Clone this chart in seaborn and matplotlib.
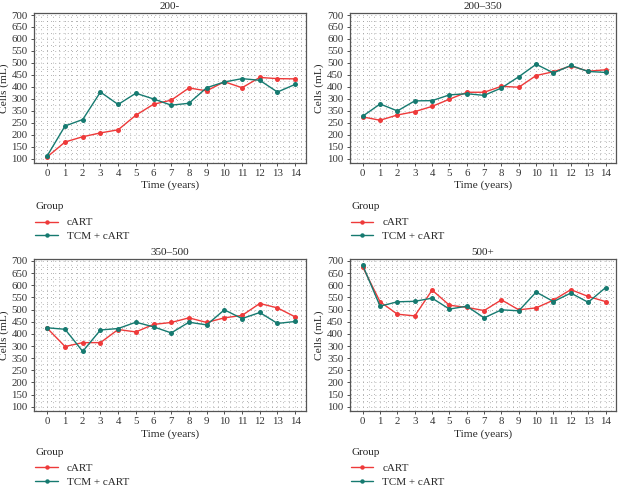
import numpy as np
import pandas as pd
import matplotlib
matplotlib.use("Agg")
import matplotlib.pyplot as plt
import seaborn as sns
from matplotlib.ticker import MultipleLocator
from matplotlib.lines import Line2D

years = list(range(15))
panel_titles = ["200-", "200\u2013350", "350\u2013500", "500+"]
groups = ["cART", "TCM + cART"]

cart_200 = [107, 169, 191, 207, 220, 281, 327, 344, 395, 383, 421, 396, 439, 434, 433]
tcm_200 = [112, 236, 263, 378, 326, 373, 349, 323, 331, 396, 420, 434, 427, 378, 410]
cart_200_350 = [274, 260, 282, 296, 318, 348, 377, 377, 402, 398, 447, 463, 487, 465, 471]
tcm_200_350 = [277, 328, 299, 341, 342, 366, 371, 364, 395, 442, 494, 458, 489, 464, 460]
cart_350_500 = [423, 348, 364, 364, 418, 408, 439, 447, 466, 447, 466, 476, 525, 507, 470]
tcm_350_500 = [425, 419, 328, 416, 422, 448, 429, 404, 448, 437, 499, 463, 488, 443, 451]
cart_500 = [675, 532, 481, 474, 580, 518, 509, 496, 540, 499, 507, 539, 582, 554, 533]
tcm_500 = [682, 514, 532, 534, 547, 502, 514, 466, 499, 495, 572, 533, 568, 530, 590]

y_ticks = [100, 150, 200, 250, 300, 350, 400, 450, 500, 550, 600, 650, 700]
y_tick_labels = ["100", "150", "200", "250", "350", "300", "400", "450", "500",
                 "550", "600", "650", "700"]

series = [(cart_200, tcm_200), (cart_200_350, tcm_200_350),
          (cart_350_500, tcm_350_500), (cart_500, tcm_500)]

colors = {"cART": "#ee3a3a", "TCM + cART": "#167a70"}

sns.set_theme(style="white")
plt.rcParams["font.family"] = ["Liberation Serif", "DejaVu Serif"]

fig = plt.figure(figsize=(6.19, 4.86), dpi=100)
positions = [
    [0.055, 0.665, 0.439, 0.308],
    [0.565, 0.665, 0.430, 0.308],
    [0.055, 0.154, 0.439, 0.313],
    [0.565, 0.154, 0.430, 0.313],
]
legend_y = [-0.26, -0.26, -0.24, -0.24]

for pos, ly, title, (c, t) in zip(positions, legend_y, panel_titles, series):
    ax = fig.add_axes(pos)
    df = pd.DataFrame({
        "Time": years * 2,
        "Cells": c + t,
        "Group": ["cART"] * len(years) + ["TCM + cART"] * len(years),
    })
    sns.lineplot(data=df, x="Time", y="Cells", hue="Group", palette=colors,
                 marker="o", markersize=3.6, markeredgewidth=0, linewidth=1.0,
                 ax=ax, legend=False)
    ax.set_xlim(-0.75, 14.6)
    ax.set_ylim(82, 708)
    ax.set_xticks(years)
    ax.set_xticklabels([str(y) for y in years], fontsize=7.8)
    ax.set_yticks(y_ticks)
    ax.set_yticklabels(y_tick_labels, fontsize=7.8)
    ax.xaxis.set_minor_locator(MultipleLocator(1 / 3))
    ax.yaxis.set_minor_locator(MultipleLocator(25))
    ax.grid(True, which="both", color="#999999", linestyle=(0, (1, 4)), linewidth=0.6)
    ax.set_axisbelow(True)
    ax.tick_params(axis="both", which="major", length=2.5, width=0.6, pad=2,
                   bottom=True, left=True, colors="#333333")
    ax.tick_params(axis="both", which="minor", length=0)
    for s in ax.spines.values():
        s.set_color("#555555")
        s.set_linewidth(0.9)
    ax.set_title(title, fontsize=8, pad=3)
    ax.set_xlabel("Time (years)", fontsize=8.2, labelpad=2)
    ax.set_ylabel("Cells (mL)", fontsize=8.2, labelpad=2)
    handles = [Line2D([0], [0], color=colors[g], marker="o", markersize=3.2,
                      markeredgewidth=0, linewidth=1.0) for g in groups]
    leg = ax.legend(handles, groups, title="Group", loc="upper left",
                    bbox_to_anchor=(0.005, ly), frameon=False, fontsize=8,
                    title_fontsize=8, handlelength=2.0, labelspacing=0.35,
                    borderaxespad=0, borderpad=0)
    leg._legend_box.align = "left"
    leg._legend_box.sep = 5

fig.savefig("out.png", dpi=100)
